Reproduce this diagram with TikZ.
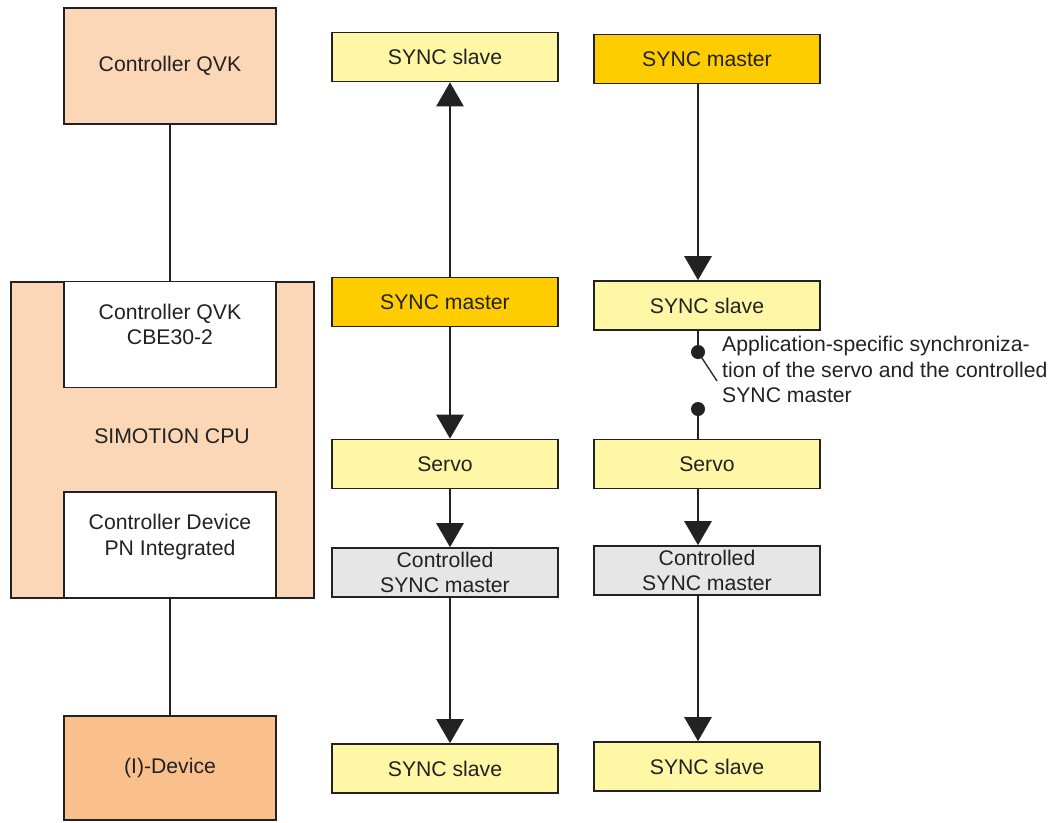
\documentclass[tikz,border=0pt]{standalone}
\usepackage{fontspec}
\setmainfont{Liberation Sans}
\usetikzlibrary{arrows.meta}

\definecolor{peach}{HTML}{FBD7B7}
\definecolor{devorange}{HTML}{F9C08C}
\definecolor{paleyellow}{HTML}{FFF7A6}
\definecolor{syncgold}{HTML}{FFCC00}
\definecolor{ctrlgray}{HTML}{E6E6E6}
\definecolor{inkgray}{HTML}{222222}

\begin{document}
\begin{tikzpicture}[x=1pt,y=-1pt,
    font=\fontsize{21.2}{25.5}\selectfont,
    box/.style={draw=inkgray,line width=1.6pt,inner sep=0pt,align=center,text=inkgray},
    cbox/.style={box,minimum width=226,minimum height=49},
    slavebox/.style={cbox,fill=paleyellow},
    masterbox/.style={cbox,fill=syncgold},
    ctrlbox/.style={cbox,fill=ctrlgray},
    leftbox/.style={box,minimum width=212,minimum height=106},
    link/.style={draw=inkgray,line width=2.6pt,-{Triangle[width=27pt,length=24pt]}},
    wire/.style={draw=inkgray,line width=1.2pt},
  ]
  \useasboundingbox (0,0) rectangle (1051,822);

  % left column: hardware
  \node[leftbox,fill=peach,minimum height=116] (qvk) at (170,66) {Controller QVK};
  \node[box,fill=peach,minimum width=303,minimum height=316] (cpu) at (162.5,440) {};
  \node[leftbox,fill=white,text depth=20pt] (cbe) at (170,334.5) {Controller QVK\\CBE30-2};
  \node[leftbox,fill=white,text depth=20pt] (pnint) at (170,545) {Controller Device\\PN Integrated};
  \node[text=inkgray] (cputext) at (172,436) {SIMOTION CPU};
  \node[leftbox,fill=devorange,minimum height=104] (idev) at (170,768) {(I)-Device};
  \draw[wire] (qvk) -- (cbe);
  \draw[wire] (pnint) -- (idev);

  % middle column
  \node[slavebox] (mslaveA) at (445,57) {SYNC slave};
  \node[masterbox] (mmaster) at (445,302) {SYNC master};
  \node[slavebox] (mservo) at (445,464) {Servo};
  \node[ctrlbox] (mctrl) at (445,572.5) {Controlled\\SYNC master};
  \node[slavebox] (mslaveB) at (445,768.5) {SYNC slave};
  \draw[link] ([xshift=5]mmaster.north) -- ([xshift=5]mslaveA.south);
  \foreach \a/\b in {mmaster/mservo,mservo/mctrl,mctrl/mslaveB}
    \draw[link] ([xshift=5]\a.south) -- ([xshift=5]\b.north);

  % right column
  \node[masterbox] (rmaster) at (707,59) {SYNC master};
  \node[slavebox] (rslaveA) at (707,305.5) {SYNC slave};
  \node[slavebox] (rservo) at (707,464) {Servo};
  \node[ctrlbox] (rctrl) at (707,570.5) {Controlled\\SYNC master};
  \node[slavebox] (rslaveB) at (707,766.5) {SYNC slave};
  \foreach \a/\b in {rmaster/rslaveA,rservo/rctrl,rctrl/rslaveB}
    \draw[link] ([xshift=-9]\a.south) -- ([xshift=-9]\b.north);

  % synchronization switch
  \coordinate (swtop) at (698,352);
  \coordinate (swbot) at (698,409);
  \draw[draw=inkgray,line width=2.6pt] ([xshift=-9]rslaveA.south) -- (swtop);
  \draw[draw=inkgray,line width=2.6pt] (swbot) -- ([xshift=-9]rservo.north);
  \draw[draw=inkgray,line width=1.3pt] (swtop) -- ++(19,29);
  \fill[inkgray] (swtop) circle (7) (swbot) circle (7);
  \node[anchor=north west,align=left,inner sep=0pt,text=inkgray] (synctext) at (722,336)
    {Application-specific synchroniza-\\tion of the servo and the controlled\\SYNC master};
\end{tikzpicture}
\end{document}
